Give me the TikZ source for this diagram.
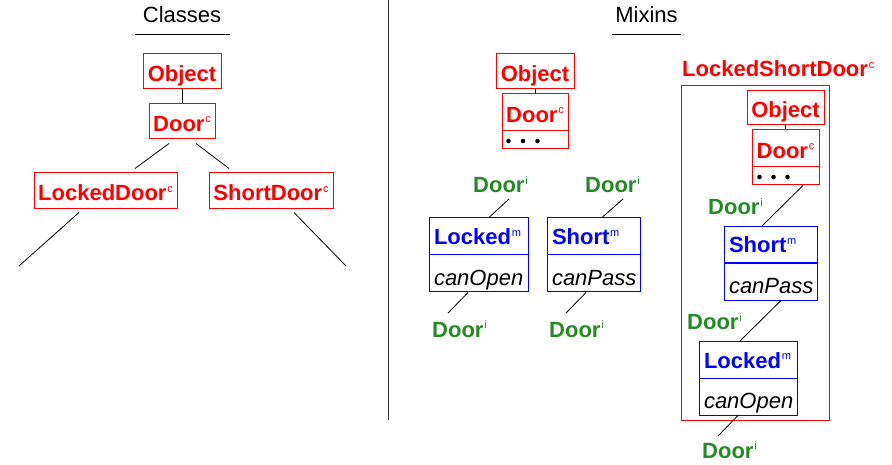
\documentclass[tikz,border=0pt]{standalone}
\usepackage{fontspec}
\setmainfont{Liberation Sans}
\usetikzlibrary{calc}
\definecolor{cred}{RGB}{255,0,0}
\definecolor{cblue}{RGB}{0,0,255}
\definecolor{cgreen}{RGB}{34,139,34}
% small raised kind marker (c = class, m = mixin, i = interface)
\newcommand\kindmark[1]{\kern0.8pt\raisebox{8.5pt}{\fontsize{11}{11}\selectfont\mdseries\upshape #1}}

\begin{document}
\begin{tikzpicture}[x=1pt,y=-1pt,
  every node/.style={font=\fontsize{22}{26}\selectfont},
  conn/.style={draw=black,line width=0.8pt},
  clsbox/.style={draw=cred,line width=1pt,text=cred,font=\fontsize{22}{26}\selectfont\bfseries,
    inner xsep=3pt,inner ysep=0pt,text height=22pt,text depth=2pt},
  dotsbox/.style={draw=cred,line width=1pt,inner sep=0pt},
  mixhead/.style={draw=cblue,line width=1pt,text=cblue,font=\fontsize{22}{26}\selectfont\bfseries,
    inner xsep=5pt,inner ysep=0pt,align=left,text width=#1,text height=18pt,text depth=2pt,minimum height=37pt},
  mixbody/.style={draw=cblue,line width=1pt,text=black,font=\fontsize{22}{26}\selectfont\itshape,
    inner xsep=5pt,inner ysep=0pt,align=left,text width=#1,text height=26pt,text depth=2pt,minimum height=37pt},
  iface/.style={text=cgreen,font=\fontsize{22}{26}\selectfont\bfseries,inner sep=0pt,anchor=base west},
  sectitle/.style={text=black,inner sep=0pt,anchor=base},
  dot/.style={fill=black,draw=none}
]
\useasboundingbox (0,0) rectangle (892,465);

% ---------- divider between the two halves ----------
\draw[line width=0.9pt,black!80] (388,0) -- (388,420);

% ---------- Classes ----------
\node[sectitle] (tClasses) at (182,23) {Classes};
\draw[line width=0.9pt] (135,34) -- (230,34);

\node[clsbox,minimum width=78pt,minimum height=35pt] (cObj) at (182,71.5) {Object};
\node[clsbox,minimum width=66pt,minimum height=35pt] (cDoor) at (182,121.5) {Door\kindmark{c}};
\node[clsbox,minimum width=143pt,minimum height=36pt] (cLD) at (105.5,191) {LockedDoor\kindmark{c}};
\node[clsbox,minimum width=124pt,minimum height=36pt] (cSD) at (271,191) {ShortDoor\kindmark{c}};

\coordinate (cLDend) at (19,266);
\coordinate (cSDend) at (346,266);

\draw[conn] (cObj.south) -- (cDoor.north);
\draw[conn] ($(cDoor.south)+(-13,4)$) -- ($(cLD.north)+(29.5,-4)$);
\draw[conn] ($(cDoor.south)+(14,4)$) -- ($(cSD.north)+(-42,-4)$);
\draw[conn] ($(cLD.south)+(-26.5,3)$) -- (cLDend);
\draw[conn] ($(cSD.south)+(23,3)$) -- (cSDend);

% ---------- Mixins ----------
\node[sectitle] (tMixins) at (646.5,23) {Mixins};
\draw[line width=0.9pt] (612,34) -- (681,34);

\node[clsbox,minimum width=78pt,minimum height=35pt] (mObj) at (535,71.5) {Object};
\node[clsbox,minimum width=66pt,minimum height=37pt] (mDoor) at (535,112.5) {Door\kindmark{c}};
\node[dotsbox,minimum width=66pt,minimum height=18pt] (mDots) at (535,140) {};
\foreach \dx in {7,21.5,36} \fill[dot] ($(mDots.west)+(\dx,1)$) circle (2.3);
\draw[conn] (mObj.south) -- (mDoor.north);

% Locked mixin
\node[mixhead=89pt] (mLkT) at (478.5,236.5) {Locked\kindmark{m}};
\node[mixbody=89pt] (mLkB) at (478.5,273.5) {canOpen};
\node[iface] (mLkInL) at (473,193) {Door\kindmark{i}};
\node[iface] (mLkOutL) at (432,337) {Door\kindmark{i}};
\coordinate (mLkIn) at (509,199);
\coordinate (mLkOut) at (448,313);
\draw[conn] (mLkIn) -- ($(mLkT.north)+(10.5,0)$);
\draw[conn] ($(mLkB.south)+(-10.5,0)$) -- (mLkOut);

% Short mixin
\node[mixhead=83pt] (mShT) at (593.5,236.5) {Short\kindmark{m}};
\node[mixbody=83pt] (mShB) at (593.5,273.5) {canPass};
\node[iface] (mShInL) at (585,193) {Door\kindmark{i}};
\node[iface] (mShOutL) at (549,337) {Door\kindmark{i}};
\coordinate (mShIn) at (623,199);
\coordinate (mShOut) at (566,313);
\draw[conn] (mShIn) -- ($(mShT.north)+(8.5,0)$);
\draw[conn] ($(mShB.south)+(-7.5,0)$) -- (mShOut);

% ---------- LockedShortDoor composed class ----------
\node[text=cred,font=\fontsize{22}{26}\selectfont\bfseries,inner sep=0pt,anchor=base west] (lsdL) at (682,77) {LockedShortDoor\kindmark{c}};
\node[draw=cred,line width=1pt,minimum width=148pt,minimum height=334pt,inner sep=0pt] (lsd) at (755,253) {};

\node[clsbox,minimum width=77pt,minimum height=34pt] (rObj) at (785.5,108) {Object};
\node[clsbox,minimum width=67pt,minimum height=37pt] (rDoor) at (785.5,148.5) {Door\kindmark{c}};
\node[dotsbox,minimum width=67pt,minimum height=18pt] (rDots) at (785.5,176) {};
\foreach \dx in {8,22,36} \fill[dot] ($(rDots.west)+(\dx,1)$) circle (2.3);
\draw[conn] (rObj.south) -- (rDoor.north);

\node[mixhead=83pt] (rShT) at (770.5,245) {Short\kindmark{m}};
\node[mixbody=83pt] (rShB) at (770.5,281.5) {canPass};
\node[mixhead=88pt] (rLkT) at (748,360) {Locked\kindmark{m}};
\node[mixbody=88pt] (rLkB) at (748,396.5) {canOpen};

\node[iface] (rL1) at (708,215) {Door\kindmark{i}};
\node[iface] (rL2) at (687,330) {Door\kindmark{i}};
\node[iface] (rL3) at (702,458) {Door\kindmark{i}};
\coordinate (rLkOut) at (718,436);

\draw[conn] ($(rDots.south)+(17.5,0)$) -- ($(rShT.north)+(-8.5,0)$);
\draw[conn] ($(rShB.south)+(10.5,0)$) -- ($(rLkT.north)+(-8,0)$);
\draw[conn] ($(rLkB.south)+(-10,0)$) -- (rLkOut);
\end{tikzpicture}
\end{document}
